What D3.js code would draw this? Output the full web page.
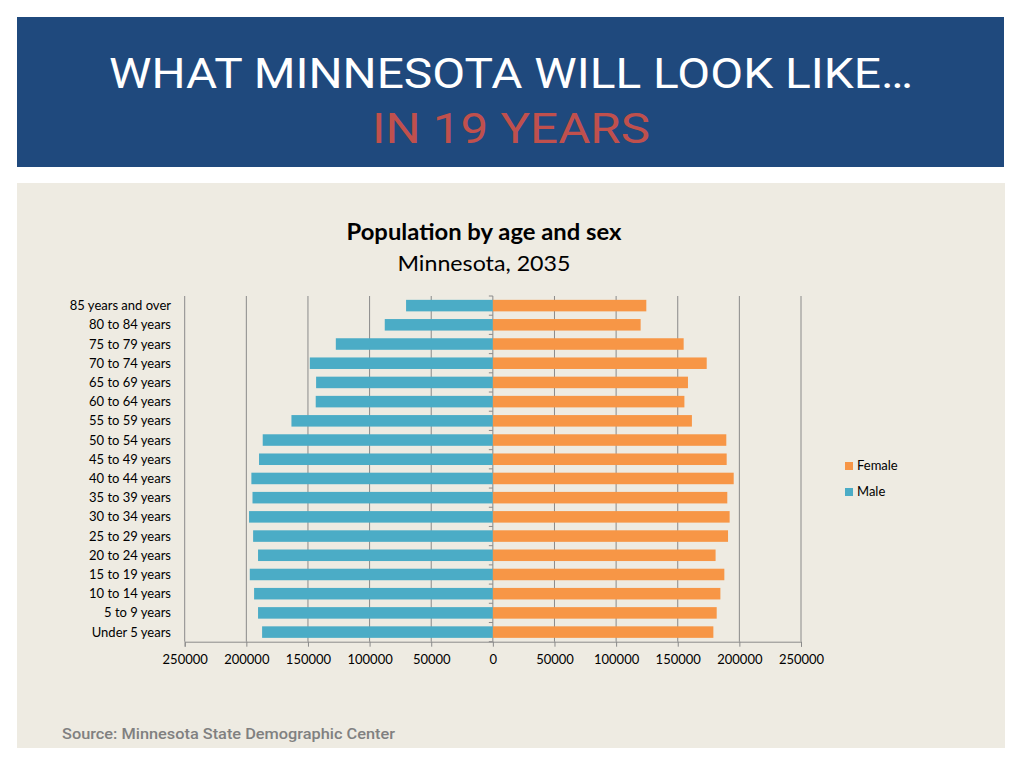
<!DOCTYPE html>
<html>
<head>
<meta charset="utf-8">
<script src="https://cdn.jsdelivr.net/npm/d3@7"></script>
<style>
  html, body { margin: 0; padding: 0; background: #fff; }
  svg { display: block; }
</style>
</head>
<body>
<svg id="chart" width="1024" height="768"></svg>
<script>
// age groups, bottom to top as in the chart
const ageGroups = [
  "Under 5 years", "5 to 9 years", "10 to 14 years", "15 to 19 years",
  "20 to 24 years", "25 to 29 years", "30 to 34 years", "35 to 39 years",
  "40 to 44 years", "45 to 49 years", "50 to 54 years", "55 to 59 years",
  "60 to 64 years", "65 to 69 years", "70 to 74 years", "75 to 79 years",
  "80 to 84 years", "85 years and over"
];
const male = [187200, 190500, 193700, 197200, 190500, 194500, 197800, 195000, 195900,
  189700, 186700, 163400, 143700, 143400, 148500, 127400, 87700, 70400];
const female = [178900, 181600, 184600, 187800, 180700, 190800, 192100, 190200, 195400,
  189700, 189400, 161500, 155400, 158300, 173500, 154800, 119900, 124500];
const xTicks = [-250000, -200000, -150000, -100000, -50000, 0, 50000, 100000, 150000, 200000, 250000];
const seriesNames = ["Female", "Male"];

const svg = d3.select('#chart');

// header band
svg.append('rect').attr('x', 17).attr('y', 17).attr('width', 987).attr('height', 150)
  .attr('fill', '#1f497d');
svg.append('text').attr('x', 511).attr('y', 88).attr('text-anchor', 'middle')
  .attr('font-family', 'Roboto, sans-serif').attr('font-size', 42)
  .attr('fill', '#fff').attr('textLength', 804).attr('lengthAdjust', 'spacingAndGlyphs')
  .text('WHAT MINNESOTA WILL LOOK LIKE…');
svg.append('text').attr('x', 511).attr('y', 143).attr('text-anchor', 'middle')
  .attr('font-family', 'Roboto, sans-serif').attr('font-size', 42)
  .attr('fill', '#c0504d').attr('textLength', 278).attr('lengthAdjust', 'spacingAndGlyphs')
  .text('IN 19 YEARS');

// content panel
svg.append('rect').attr('x', 17).attr('y', 183).attr('width', 988).attr('height', 565)
  .attr('fill', '#eeebe2');

svg.append('text').attr('x', 484).attr('y', 240).attr('text-anchor', 'middle')
  .attr('font-family', 'Lato, sans-serif').attr('font-weight', 'bold').attr('font-size', 22)
  .attr('fill', '#000').attr('textLength', 275).attr('lengthAdjust', 'spacingAndGlyphs')
  .text('Population by age and sex');
svg.append('text').attr('x', 484).attr('y', 271).attr('text-anchor', 'middle')
  .attr('font-family', 'Lato, sans-serif').attr('font-size', 22)
  .attr('fill', '#000').attr('textLength', 173).attr('lengthAdjust', 'spacingAndGlyphs')
  .text('Minnesota, 2035');

const x = d3.scaleLinear().domain([-250000, 250000]).range([184.7, 801]);
const y = d3.scaleBand().domain(ageGroups.slice().reverse()).range([296, 641.7]).paddingInner(0.4).paddingOuter(0.2);
const y0 = d3.scaleBand().domain(ageGroups.slice().reverse()).range([296, 641.7]);

const plot = svg.append('g');

// gridlines
plot.selectAll('line.grid').data(xTicks).join('line')
  .attr('class', 'grid')
  .attr('x1', d => x(d)).attr('x2', d => x(d))
  .attr('y1', 296).attr('y2', 641.7)
  .attr('stroke', '#8a8a8a').attr('stroke-width', 1);

const rows = ageGroups.map((a, i) => ({age: a, male: male[i], female: female[i]}));

plot.selectAll('rect.male').data(rows).join('rect')
  .attr('class', 'male')
  .attr('x', d => x(-d.male)).attr('width', d => x(0) - x(-d.male))
  .attr('y', d => y(d.age)).attr('height', y.bandwidth())
  .attr('fill', '#4bacc6');

plot.selectAll('rect.female').data(rows).join('rect')
  .attr('class', 'female')
  .attr('x', x(0)).attr('width', d => x(d.female) - x(0))
  .attr('y', d => y(d.age)).attr('height', y.bandwidth())
  .attr('fill', '#f79646');

// category boundary ticks on the zero axis
const bounds = ageGroups.map(a => y0(a)).concat([641.7]);
plot.selectAll('line.ytick').data(bounds).join('line')
  .attr('class', 'ytick')
  .attr('x1', x(0) - 4).attr('x2', x(0))
  .attr('y1', d => d).attr('y2', d => d)
  .attr('stroke', '#8a8a8a');

// bottom axis
const xAxis = svg.append('g').attr('transform', 'translate(0,641.7)')
  .call(d3.axisBottom(x).tickValues(xTicks).tickSize(5).tickFormat(d => Math.abs(d)));
xAxis.select('.domain').attr('stroke', '#8a8a8a');
xAxis.selectAll('.tick line').attr('stroke', '#8a8a8a');
xAxis.selectAll('.tick text').attr('font-family', 'Lato, sans-serif').attr('font-size', 13)
  .attr('fill', '#000').attr('dy', 0).attr('y', 22);

// category labels
svg.append('g').selectAll('text').data(ageGroups).join('text')
  .attr('x', 171).attr('y', d => y0(d) + y0.bandwidth() / 2 + 4.5)
  .attr('text-anchor', 'end')
  .attr('font-family', 'Lato, sans-serif').attr('font-size', 13).attr('fill', '#000')
  .text(d => d);

// legend
const colors = {Female: '#f79646', Male: '#4bacc6'};
const legend = svg.append('g').selectAll('g').data(seriesNames).join('g')
  .attr('transform', (d, i) => `translate(845,${462 + i * 26})`);
legend.append('rect').attr('width', 8).attr('height', 8).attr('fill', d => colors[d]);
legend.append('text').attr('x', 12).attr('y', 8)
  .attr('font-family', 'Lato, sans-serif').attr('font-size', 13).attr('fill', '#000')
  .text(d => d);

// source
svg.append('text').attr('x', 62).attr('y', 739)
  .attr('font-family', 'Roboto, sans-serif').attr('font-weight', 500).attr('font-size', 14.5)
  .attr('fill', '#808080').attr('textLength', 333).attr('lengthAdjust', 'spacingAndGlyphs')
  .text('Source: Minnesota State Demographic Center');
</script>
</body>
</html>
